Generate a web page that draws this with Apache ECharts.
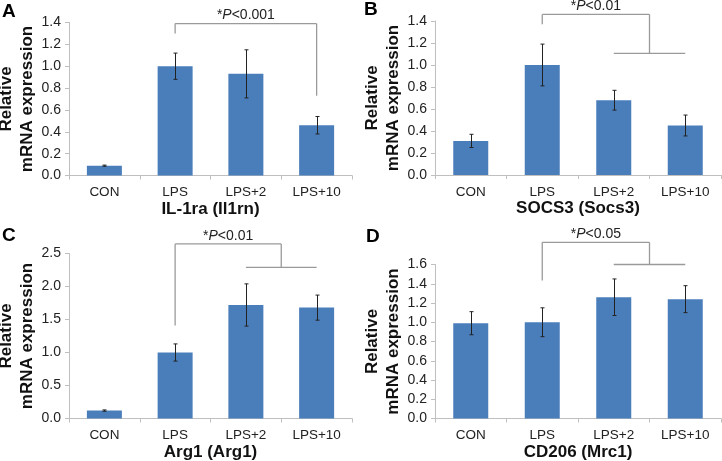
<!DOCTYPE html>
<html>
<head>
<meta charset="utf-8">
<script src="https://cdn.jsdelivr.net/npm/echarts@6/dist/echarts.min.js"></script>
<style>
html, body { margin: 0; padding: 0; background: #fff; }
#chart { width: 722px; height: 461px; }
</style>
</head>
<body>
<div id="chart"></div>
<script>
const categories = ['CON', 'LPS', 'LPS+2', 'LPS+10'];

// relative expression (mean) and error per gene
const il1rnMean = [0.09, 1.00, 0.93, 0.46];
const il1rnErr = [0.005, 0.12, 0.22, 0.08];
const socs3Mean = [0.31, 1.00, 0.68, 0.45];
const socs3Err = [0.06, 0.19, 0.09, 0.095];
const arg1Mean = [0.12, 1.00, 1.72, 1.68];
const arg1Err = [0.01, 0.13, 0.32, 0.19];
const mrc1Mean = [0.99, 1.00, 1.26, 1.24];
const mrc1Err = [0.12, 0.15, 0.19, 0.14];

// y axis: [min, max, interval]
const il1rnTicks = [0, 1.4, 0.2];
const socs3Ticks = [0, 1.4, 0.2];
const arg1Ticks = [0, 2.5, 0.5];
const mrc1Ticks = [0, 1.6, 0.2];

// significance brackets (category index + heights in data units)
const il1rnSig = { from: 1, to: [3], top: 1.39, fromEnd: 1.30, toEnd: 0.73, p: '<0.001' };
const socs3Sig = { from: 1, to: [2, 3], top: 1.46, fromEnd: 1.37, toEnd: 1.105, p: '<0.01' };
const arg1Sig = { from: 1, to: [2, 3], top: 2.645, fromEnd: 1.41, toEnd: 2.29, p: '<0.01' };
const mrc1Sig = { from: 1, to: [2, 3], top: 1.83, fromEnd: 1.435, toEnd: 1.60, p: '<0.05' };

const panels = [
    { letter: 'A', gene: 'IL-1ra (Il1rn)', mean: il1rnMean, err: il1rnErr, ticks: il1rnTicks, sig: il1rnSig },
    { letter: 'B', gene: 'SOCS3 (Socs3)', mean: socs3Mean, err: socs3Err, ticks: socs3Ticks, sig: socs3Sig },
    { letter: 'C', gene: 'Arg1 (Arg1)', mean: arg1Mean, err: arg1Err, ticks: arg1Ticks, sig: arg1Sig },
    { letter: 'D', gene: 'CD206 (Mrc1)', mean: mrc1Mean, err: mrc1Err, ticks: mrc1Ticks, sig: mrc1Sig }
];

// layout of the four panels
const grids = [
    { left: 69, top: 22.5, width: 283, height: 153 },
    { left: 435, top: 21, width: 286, height: 154 },
    { left: 69, top: 253.5, width: 283, height: 165 },
    { left: 435, top: 264.5, width: 286, height: 154 }
];
const letterPos = [[2, 2], [364, 0], [2, 226], [366, 227]];

const FONT = '"Liberation Sans", Arial, sans-serif';
const AXIS_GRAY = '#bfbfbf';
const BAR_BLUE = '#4a7ebb';

function errorItem(params, api) {
    const i = api.value(0), m = api.value(1), e = api.value(2);
    const hi = api.coord([i, m + e]);
    const lo = api.coord([i, m - e]);
    const x = Math.round(hi[0]) + 0.5;
    const st = { stroke: '#222', lineWidth: 1 };
    return {
        type: 'group',
        children: [
            { type: 'line', shape: { x1: x, y1: hi[1], x2: x, y2: lo[1] }, style: st },
            { type: 'line', shape: { x1: x - 2, y1: hi[1], x2: x + 2, y2: hi[1] }, style: st },
            { type: 'line', shape: { x1: x - 2, y1: lo[1], x2: x + 2, y2: lo[1] }, style: st }
        ]
    };
}

function bracketItem(sig) {
    return function (params, api) {
        const st = { stroke: '#9a9a9a', lineWidth: 1.3 };
        const start = api.coord([sig.from, sig.top]);
        const startEnd = api.coord([sig.from, sig.fromEnd]);
        const children = [];
        let right;
        if (sig.to.length === 1) {
            const a = api.coord([sig.to[0], sig.top]);
            const b = api.coord([sig.to[0], sig.toEnd]);
            right = a[0];
            children.push({ type: 'line', shape: { x1: right, y1: a[1], x2: right, y2: b[1] }, style: st });
        } else {
            const a = api.coord([sig.to[0], sig.toEnd]);
            const b = api.coord([sig.to[1], sig.toEnd]);
            right = (a[0] + b[0]) / 2;
            children.push({ type: 'line', shape: { x1: a[0], y1: a[1], x2: b[0], y2: b[1] }, style: st });
            children.push({ type: 'line', shape: { x1: right, y1: start[1], x2: right, y2: a[1] }, style: st });
        }
        children.push({ type: 'line', shape: { x1: start[0], y1: start[1], x2: right, y2: start[1] }, style: st });
        children.push({ type: 'line', shape: { x1: start[0], y1: start[1], x2: startEnd[0], y2: startEnd[1] }, style: st });
        children.push({
            type: 'text',
            style: {
                x: (start[0] + right) / 2,
                y: start[1] - 1,
                text: '*{i|P}' + sig.p,
                align: 'center',
                verticalAlign: 'bottom',
                fontFamily: FONT,
                fontSize: 14,
                fill: '#222',
                rich: { i: { fontStyle: 'italic', fontFamily: FONT, fontSize: 14, fill: '#222' } }
            }
        });
        return { type: 'group', children: children };
    };
}

const xAxes = [], yAxes = [], series = [], graphics = [];
panels.forEach(function (p, k) {
    xAxes.push({
        type: 'category',
        gridIndex: k,
        data: categories,
        axisLine: { lineStyle: { color: AXIS_GRAY, width: 1 } },
        axisTick: { show: true, length: 4, lineStyle: { color: AXIS_GRAY } },
        axisLabel: { fontFamily: FONT, fontSize: 13.5, color: '#222', margin: 10 },
        name: p.gene,
        nameLocation: 'middle',
        nameGap: 24,
        nameTextStyle: { fontFamily: FONT, fontSize: 17, fontWeight: 'bold', color: '#111' }
    });
    yAxes.push({
        type: 'value',
        gridIndex: k,
        min: p.ticks[0],
        max: p.ticks[1],
        interval: p.ticks[2],
        splitLine: { show: false },
        axisLine: { show: true, lineStyle: { color: AXIS_GRAY, width: 1 } },
        axisTick: { show: true, length: 4, lineStyle: { color: AXIS_GRAY } },
        axisLabel: {
            fontFamily: FONT, fontSize: 14, color: '#222', margin: 8,
            formatter: function (v) { return v.toFixed(1); }
        },
        name: 'Relative\nmRNA expression',
        nameLocation: 'middle',
        nameRotate: 90,
        nameGap: 27,
        nameTextStyle: { fontFamily: FONT, fontSize: 17, fontWeight: 'bold', color: '#111', lineHeight: 21 }
    });
    series.push({
        type: 'bar',
        xAxisIndex: k,
        yAxisIndex: k,
        barWidth: 35,
        itemStyle: { color: BAR_BLUE },
        data: p.mean,
        silent: true
    });
    series.push({
        type: 'custom',
        xAxisIndex: k,
        yAxisIndex: k,
        renderItem: errorItem,
        encode: { x: 0, y: 1 },
        data: p.mean.map(function (m, i) { return [i, m, p.err[i]]; }),
        z: 3,
        silent: true
    });
    series.push({
        type: 'custom',
        xAxisIndex: k,
        yAxisIndex: k,
        renderItem: bracketItem(p.sig),
        encode: { x: 0, y: 1 },
        data: [[p.sig.from, p.sig.top]],
        clip: false,
        z: 4,
        silent: true
    });
    graphics.push({
        type: 'text',
        left: letterPos[k][0],
        top: letterPos[k][1],
        style: { text: p.letter, fontFamily: FONT, fontSize: 19, fontWeight: 'bold', fill: '#000' }
    });
});

const chart = echarts.init(document.getElementById('chart'));
chart.setOption({
    animation: false,
    backgroundColor: '#fff',
    grid: grids.map(function (g) { return Object.assign({ containLabel: false, outerBoundsMode: 'none' }, g); }),
    xAxis: xAxes,
    yAxis: yAxes,
    series: series,
    graphic: graphics
});
</script>
</body>
</html>
